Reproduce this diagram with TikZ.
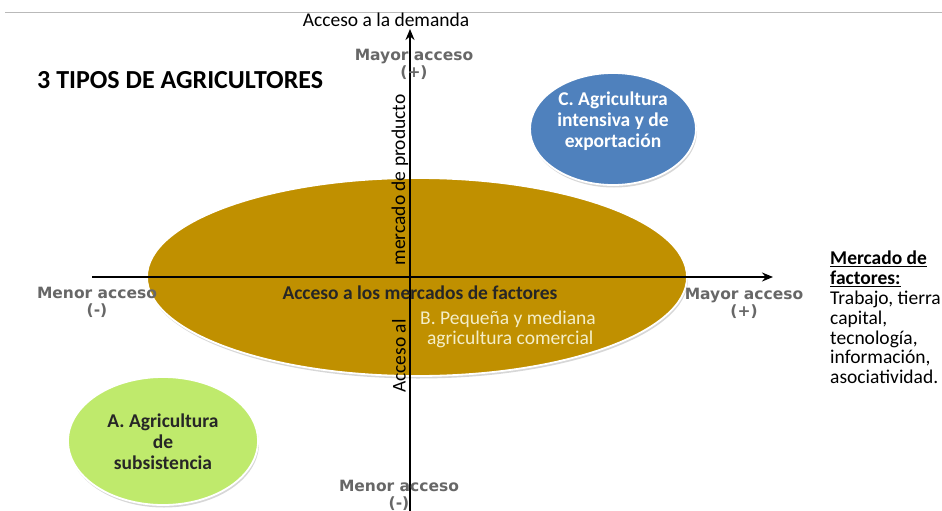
\documentclass[tikz,border=0pt]{standalone}
\usepackage{fontspec}
\setmainfont{Carlito}
\newfontfamily\verdfont{DejaVu Sans}
\usetikzlibrary{arrows.meta,shapes.geometric,shadows}
\definecolor{cblue}{HTML}{4F81BD}
\definecolor{cgold}{HTML}{C09000}
\definecolor{cgreen}{HTML}{BFEA6C}
\definecolor{lbgray}{HTML}{676767}
\definecolor{cream}{HTML}{F4EEC8}
\tikzset{
  cal/.style={font=\fontsize{19.5}{20}\selectfont, inner sep=0pt},
  calb/.style={font=\fontsize{19.5}{20.8}\selectfont\bfseries, inner sep=0pt},
  graylbl/.style={font=\verdfont\fontsize{15.5}{17}\selectfont\bfseries, text=lbgray, align=center, inner sep=0pt},
  blob/.style={ellipse, draw=white, line width=1.8pt,
    drop shadow={shadow xshift=1pt, shadow yshift=-2.5pt, fill=gray!45, opacity=0.7}},
  axis/.style={line width=1.8pt, -{Stealth[length=11pt,width=9pt]}},
}
\begin{document}
\begin{tikzpicture}[x=1pt,y=-1pt]
\useasboundingbox (0,0) rectangle (942,511);
% top rule
\coordinate (tl) at (5,13);
\coordinate (tr) at (942,13);
\draw[gray!55, line width=1pt] (tl) -- (tr);

% ellipses
\node[blob, fill=cgold, minimum width=540pt, minimum height=198pt] (B) at (417,277) {};
\node[blob, fill=cblue, minimum width=166pt, minimum height=112pt] (C) at (613,129) {};
\node[blob, fill=cgreen, minimum width=190pt, minimum height=128pt] (A) at (163,441) {};

% axes
\coordinate (vb) at (410,511);
\coordinate (vt) at (410,29);
\coordinate (hl) at (92,277);
\coordinate (hr) at (773,277);
\draw[axis] (vb) -- (vt);
\draw[axis] (hl) -- (hr);

% texts
\node[cal] (demanda) at (386,20) {Acceso a la demanda};
\node[graylbl] (mayort) at (414,64) {Mayor acceso\\(+)};
\node[calb, anchor=west, font=\fontsize{26}{27}\selectfont\bfseries] (title) at (37,80) {3 TIPOS DE AGRICULTORES};

\node[calb, text=white, align=center] (Ct) at (613,121) {C. Agricultura\\intensiva y de\\exportación};
\node[calb, text=black!85, align=center] (At) at (163,442) {A. Agricultura\\de\\subsistencia};

\node[calb, text=black!85] (factores) at (420,293) {Acceso a los mercados de factores};
\node[cal, text=cream, align=center] (Bt) at (508,329) {B. Pequeña y mediana\\\ agricultura comercial};

\node[cal, rotate=90] (prod) at (400,180) {mercado de producto};
\node[cal, rotate=90] (accal) at (399,356) {Acceso al};

\node[graylbl] (menorl) at (97,302) {Menor acceso\\(-)};
\node[graylbl] (mayorr) at (744,303) {Mayor acceso\\(+)};
\node[graylbl] (menorb) at (399,495) {Menor acceso\\(-)};

\node[anchor=north west, align=left, inner sep=0pt, font=\fontsize{19.5}{19.8}\selectfont] (merc) at (830,251)
  {\textbf{\underline{Mercado de}}\\\textbf{\underline{factores:}}\\Trabajo, tierra\\capital,\\tecnología,\\información,\\asociatividad.};
\end{tikzpicture}
\end{document}
